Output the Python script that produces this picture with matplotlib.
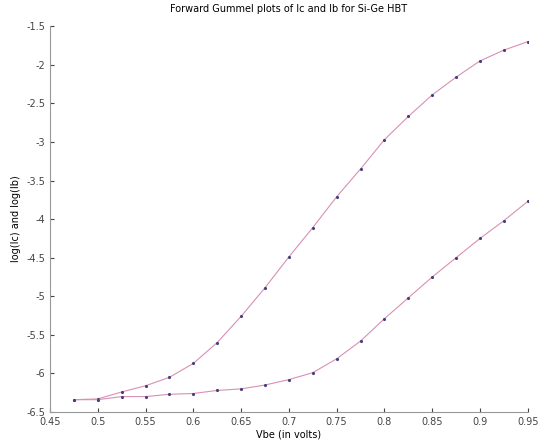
import matplotlib
matplotlib.use('Agg')
import matplotlib.pyplot as plt
from matplotlib.ticker import FormatStrFormatter

# Data
vbe = [0.475, 0.5, 0.525, 0.55, 0.575, 0.6, 0.625, 0.65, 0.675, 0.7,
       0.725, 0.75, 0.775, 0.8, 0.825, 0.85, 0.875, 0.9, 0.925, 0.95]
log_ic = [-6.34, -6.33, -6.24, -6.16, -6.05, -5.87, -5.60, -5.26, -4.89, -4.49,
          -4.11, -3.71, -3.35, -2.97, -2.67, -2.39, -2.16, -1.95, -1.81, -1.70]
log_ib = [-6.34, -6.34, -6.30, -6.30, -6.27, -6.26, -6.22, -6.20, -6.15, -6.08,
          -5.99, -5.81, -5.58, -5.29, -5.02, -4.75, -4.50, -4.25, -4.02, -3.77]

x_ticks = [0.45, 0.5, 0.55, 0.6, 0.65, 0.7, 0.75, 0.8, 0.85, 0.9, 0.95]
y_ticks = [-6.5, -6, -5.5, -5, -4.5, -4, -3.5, -3, -2.5, -2, -1.5]

fig = plt.figure(figsize=(5.43, 4.44), dpi=100)
ax = fig.add_axes([0.092, 0.072, 0.88, 0.869])

line_col = '#d890b4'
dot_col = '#44407a'
for y in (log_ic, log_ib):
    ax.plot(vbe, y, color=line_col, linewidth=0.8)
    ax.plot(vbe, y, linestyle='none', marker='.', markersize=2.5, color=dot_col)

ax.set_xlim(0.45, 0.95)
ax.set_ylim(-6.5, -1.5)
ax.set_xticks(x_ticks)
ax.set_yticks(y_ticks)
ax.xaxis.set_major_formatter(FormatStrFormatter('%g'))
ax.yaxis.set_major_formatter(FormatStrFormatter('%g'))
ax.tick_params(direction='in', length=3, labelsize=7, colors='#444444')

for s in ('top', 'right'):
    ax.spines[s].set_visible(False)
for s in ('left', 'bottom'):
    ax.spines[s].set_color('#999999')

ax.set_title('Forward Gummel plots of Ic and Ib for Si-Ge HBT', fontsize=7, pad=10)
ax.set_xlabel('Vbe (in volts)', fontsize=7, labelpad=2)
ax.set_ylabel('log(Ic) and log(Ib)', fontsize=7, labelpad=4)

fig.savefig('out.png', dpi=100)
